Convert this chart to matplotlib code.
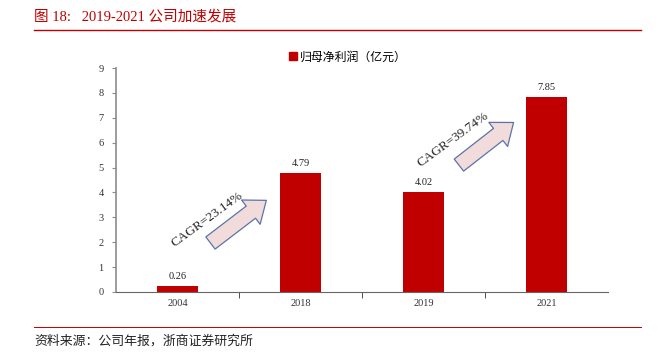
import matplotlib
matplotlib.use("Agg")
import matplotlib.pyplot as plt
from matplotlib.lines import Line2D
from matplotlib.patches import FancyArrowPatch

plt.rcParams['font.family'] = ['Liberation Serif', 'Noto Sans CJK SC']

years = ['2004', '2018', '2019', '2021']
profit = [0.26, 4.79, 4.02, 7.85]
cagr_labels = ['CAGR=23.14%', 'CAGR=39.74%']
yticks = list(range(0, 10))

red = '#c00000'
grey = '#8c8c8c'

fig = plt.figure(figsize=(6.71, 3.52), dpi=100)
ax = fig.add_axes([0.1729, 0.1705, 0.7332, 0.6363])

x = list(range(len(years)))
ax.bar(x, profit, width=0.34, color=red, zorder=2)
for xi, v in zip(x, profit):
    ax.text(xi, v + 0.18, f'{v:.2f}', ha='center', va='bottom', fontsize=7.5,
            color='#222222')

ax.set_xlim(-0.5, len(years) - 0.5)
ax.set_ylim(0, 9)
ax.set_yticks(yticks)
ax.set_yticklabels([str(t) for t in yticks], fontsize=7.5, color='#333333')
ax.set_xticks(x)
ax.set_xticklabels(years, fontsize=7.5, color='#333333')
ax.tick_params(axis='x', length=0, pad=5)
ax.tick_params(axis='y', length=3, color=grey, pad=6)
# ticks between categories on the x axis
ax.set_xticks([0.5, 1.5, 2.5], minor=True)
ax.tick_params(axis='x', which='minor', length=4, color='#333333', direction='out')

for s in ['top', 'right']:
    ax.spines[s].set_visible(False)
ax.spines['left'].set_color(grey)
ax.spines['left'].set_linewidth(1.2)
ax.spines['bottom'].set_color('#666666')
ax.spines['bottom'].set_linewidth(0.8)

# CAGR arrows
arrows = [((0.25, 1.9), (0.74, 3.75)), ((2.27, 5.03), (2.75, 6.88))]
text_pos = [(0.245, 2.9), (2.237, 6.11)]
for (tail, head), lab, tp in zip(arrows, cagr_labels, text_pos):
    arr = FancyArrowPatch(tail, head,
                          arrowstyle='simple,head_length=1.4,head_width=2.2,tail_width=1.1',
                          mutation_scale=10, facecolor='#f2dcdb',
                          edgecolor='#5a74a8', linewidth=0.9, zorder=3)
    ax.add_patch(arr)
    ax.text(tp[0], tp[1], lab, rotation=36, ha='center', va='center',
            fontsize=9.5, color='#222222', rotation_mode='anchor', zorder=4)

# legend
handle = Line2D([], [], marker='s', color='none', markerfacecolor=red,
                markeredgecolor=red, markersize=6)
fig.legend([handle], ['归母净利润（亿元）'], loc='center', bbox_to_anchor=(0.517, 0.838),
           frameon=False, handletextpad=0.1, handlelength=1.0,
           prop={'family': ['Noto Sans CJK SC'], 'size': 8.6})

# header and footer
fig.text(0.051, 0.952, '图 18:   2019-2021 公司加速发展', color=red, fontsize=10.5,
         ha='left', va='center')
fig.add_artist(Line2D([0.051, 0.955], [0.915, 0.915], color=red, linewidth=1.0))
fig.add_artist(Line2D([0.051, 0.955], [0.071, 0.071], color=red, linewidth=0.7))
fig.text(0.051, 0.031, '资料来源：公司年报，浙商证券研究所', color='#222222',
         fontsize=9.3, ha='left', va='center', family=['Noto Sans CJK SC'])

fig.savefig('out.png', dpi=100)
